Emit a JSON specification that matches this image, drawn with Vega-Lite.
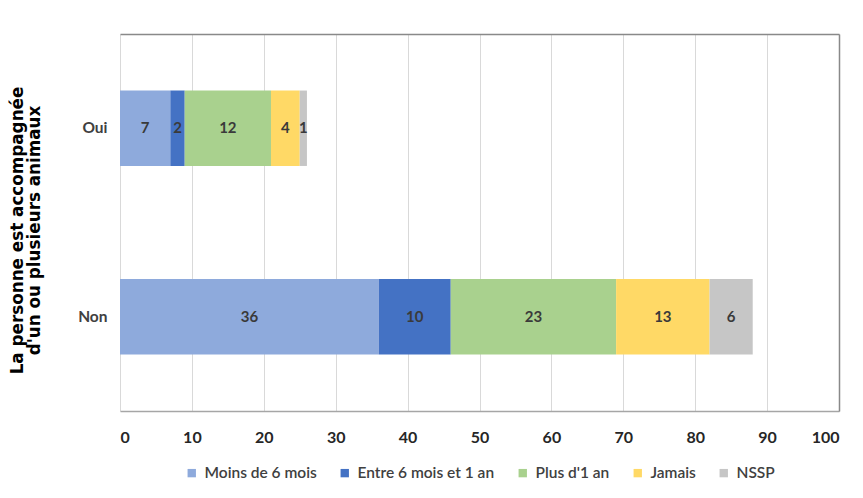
{
  "$schema": "https://vega.github.io/schema/vega-lite/v6.json",
  "width": 719,
  "height": 377,
  "autosize": {"type": "none"},
  "padding": {"left": 120, "top": 34, "right": 24, "bottom": 87},
  "background": "white",
  "config": {
    "view": {"stroke": null},
    "font": "Lato",
    "legend": {"layout": {"bottom": {"anchor": "middle"}}}
  },
  "data": {
    "values": [
      {"cat": "Oui", "seg": "Moins de 6 mois", "ord": 1, "value": 7},
      {"cat": "Oui", "seg": "Entre 6 mois et 1 an", "ord": 2, "value": 2},
      {"cat": "Oui", "seg": "Plus d'1 an", "ord": 3, "value": 12},
      {"cat": "Oui", "seg": "Jamais", "ord": 4, "value": 4},
      {"cat": "Oui", "seg": "NSSP", "ord": 5, "value": 1},
      {"cat": "Non", "seg": "Moins de 6 mois", "ord": 1, "value": 36},
      {"cat": "Non", "seg": "Entre 6 mois et 1 an", "ord": 2, "value": 10},
      {"cat": "Non", "seg": "Plus d'1 an", "ord": 3, "value": 23},
      {"cat": "Non", "seg": "Jamais", "ord": 4, "value": 13},
      {"cat": "Non", "seg": "NSSP", "ord": 5, "value": 6}
    ]
  },
  "transform": [
    {"stack": "value", "groupby": ["cat"], "sort": [{"field": "ord", "order": "ascending"}], "as": ["s", "e"]}
  ],
  "layer": [
    {
      "mark": {"type": "bar"},
      "encoding": {
        "y": {
          "field": "cat", "type": "nominal", "sort": ["Oui", "Non"],
          "scale": {"paddingInner": 0.6, "paddingOuter": 0.3},
          "axis": {
            "orient": "left",
            "title": ["La personne est accompagnée", "d'un ou plusieurs animaux"],
            "titleFont": "DejaVu Sans", "titleFontSize": 16.8, "titleFontWeight": "bold", "titleColor": "#000000",
            "titleLineHeight": 17, "titlePadding": 34, "titleY": 196,
            "labelFont": "Lato", "labelFontSize": 15.5, "labelFontWeight": "bold", "labelColor": "#404040",
            "labelPadding": 13, "ticks": false, "domain": false
          }
        },
        "x": {
          "field": "s", "type": "quantitative",
          "scale": {"domain": [0, 100], "nice": false},
          "axis": {
            "orient": "bottom", "title": null, "values": [0,10,20,30,40,50,60,70,80,90,100],
            "labelFont": "Lato", "labelFontSize": 16, "labelFontWeight": "bold", "labelColor": "#262626",
            "labelPadding": 18, "ticks": false,
            "domainColor": "#a6a6a6", "domainWidth": 1.5,
            "grid": true, "gridColor": "#d9d9d9", "gridWidth": 1
          }
        },
        "x2": {"field": "e"},
        "color": {
          "field": "seg", "type": "nominal",
          "sort": ["Moins de 6 mois", "Entre 6 mois et 1 an", "Plus d'1 an", "Jamais", "NSSP"],
          "scale": {
            "domain": ["Moins de 6 mois", "Entre 6 mois et 1 an", "Plus d'1 an", "Jamais", "NSSP"],
            "range": ["#8eaadc", "#4472c4", "#a9d18e", "#ffd966", "#c6c6c6"]
          },
          "legend": {
            "orient": "bottom", "direction": "horizontal", "title": null,
            "symbolType": "square", "symbolSize": 70, "symbolStrokeWidth": 0,
            "labelFont": "Lato", "labelFontSize": 15.5, "labelFontWeight": 600, "labelColor": "#404040",
            "labelOffset": 5, "columnPadding": 20, "offset": 20
          }
        }
      }
    },
    {
      "transform": [
        {"fold": ["s", "e"], "as": ["k", "pos"]}
      ],
      "mark": {"type": "text", "font": "Lato", "fontSize": 15, "fontWeight": "bold", "color": "#3a3a3a"},
      "encoding": {
        "y": {"field": "cat", "type": "nominal", "sort": ["Oui", "Non"],
          "axis": {"orient": "right", "title": null, "labels": false, "ticks": false, "grid": false, "domain": true, "domainColor": "#898989", "domainWidth": 1.5}},
        "x": {"aggregate": "mean", "field": "pos", "type": "quantitative",
          "axis": {"orient": "top", "title": null, "labels": false, "ticks": false, "grid": false, "domain": true, "domainColor": "#898989", "domainWidth": 1.5}},
        "detail": {"field": "seg"},
        "text": {"field": "value", "type": "quantitative"}
      }
    }
  ],
  "resolve": {"axis": {"x": "independent", "y": "independent"}}
}
